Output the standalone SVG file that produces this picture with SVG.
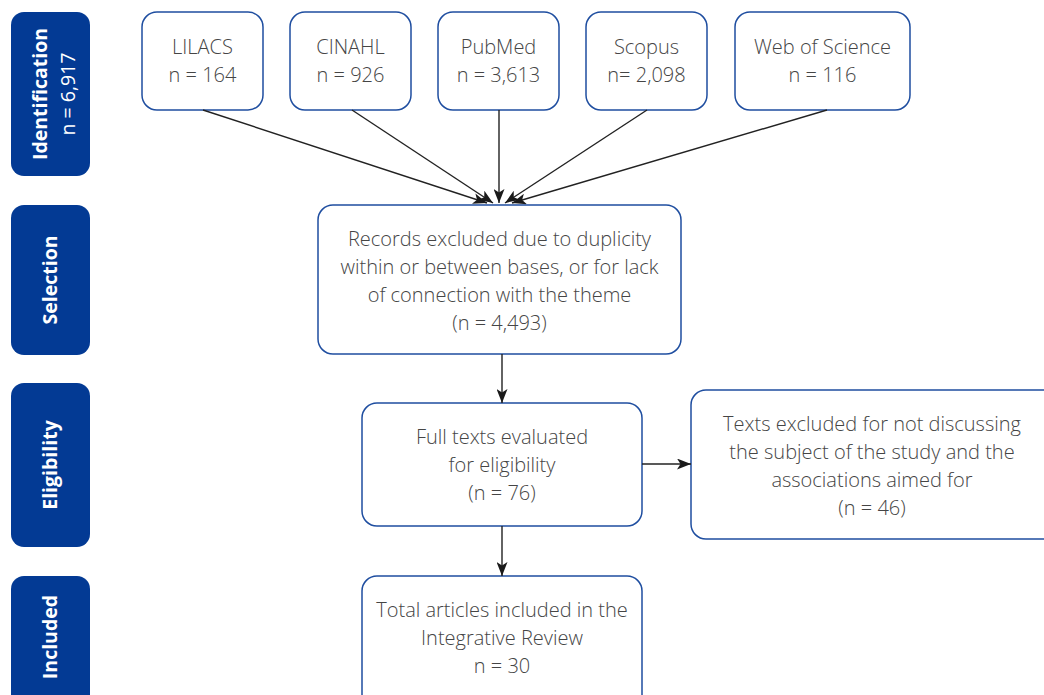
<svg xmlns="http://www.w3.org/2000/svg" width="1044" height="695" viewBox="0 0 1044 695">
<defs>
<marker id="arr" viewBox="0 0 14 11" refX="14" refY="5.5" markerWidth="14" markerHeight="11" markerUnits="userSpaceOnUse" orient="auto">
<path d="M0,0 L14,5.5 L0,11 L3.5,5.5 z" fill="#1a1a1a"/>
</marker>
<style>
.side{fill:#033a94}
.box{fill:#fff;stroke:#1f4ea0;stroke-width:1.5}
.t{font-family:"Open Sans","Liberation Sans",sans-serif;font-weight:300;font-size:20px;fill:#454545;text-anchor:middle}
.sb{font-family:"Open Sans","Liberation Sans",sans-serif;font-weight:700;font-size:19.5px;fill:#fff;text-anchor:middle}
.sr{font-family:"Open Sans","Liberation Sans",sans-serif;font-weight:400;font-size:19.5px;fill:#fff;text-anchor:middle}
.c{stroke:#222;stroke-width:1.4;fill:none}
</style>
</defs>
<g id="side-identification">
<rect class="side" x="11" y="12" width="79" height="164" rx="13"/>
<text class="sb" transform="translate(47,94) rotate(-90)">Identification</text>
<text class="sr" transform="translate(75,94) rotate(-90)">n = 6,917</text>
</g>
<g id="side-selection">
<rect class="side" x="11" y="205" width="79" height="150" rx="13"/>
<text class="sb" transform="translate(57,280) rotate(-90)">Selection</text>
</g>
<g id="side-eligibility">
<rect class="side" x="11" y="383" width="79" height="164" rx="13"/>
<text class="sb" transform="translate(57,465) rotate(-90)">Eligibility</text>
</g>
<g id="side-included">
<rect class="side" x="11" y="576" width="79" height="140" rx="13"/>
<text class="sb" transform="translate(57,637) rotate(-90)">Included</text>
</g>
<g id="lilacs">
<rect class="box" x="142" y="12" width="121" height="98" rx="15"/>
<text class="t" x="202.5" y="54">LILACS</text>
<text class="t" x="202.5" y="82">n = 164</text>
</g>
<g id="cinahl">
<rect class="box" x="290" y="12" width="121" height="98" rx="15"/>
<text class="t" x="350.5" y="54">CINAHL</text>
<text class="t" x="350.5" y="82">n = 926</text>
</g>
<g id="pubmed">
<rect class="box" x="438" y="12" width="121" height="98" rx="15"/>
<text class="t" x="498.5" y="54">PubMed</text>
<text class="t" x="498.5" y="82">n = 3,613</text>
</g>
<g id="scopus">
<rect class="box" x="586" y="12" width="121" height="98" rx="15"/>
<text class="t" x="646.5" y="54">Scopus</text>
<text class="t" x="646.5" y="82">n= 2,098</text>
</g>
<g id="wos">
<rect class="box" x="735" y="12" width="175" height="98" rx="15"/>
<text class="t" x="822.5" y="54">Web of Science</text>
<text class="t" x="822.5" y="82">n = 116</text>
</g>
<g id="selection">
<rect class="box" x="318" y="205" width="363" height="149" rx="15"/>
<text class="t" x="499.5" y="246">Records excluded due to duplicity</text>
<text class="t" x="499.5" y="274">within or between bases, or for lack</text>
<text class="t" x="499.5" y="302">of connection with the theme</text>
<text class="t" x="499.5" y="330">(n = 4,493)</text>
</g>
<g id="eligibility">
<rect class="box" x="362" y="403" width="280" height="123" rx="15"/>
<text class="t" x="502" y="444">Full texts evaluated</text>
<text class="t" x="502" y="472">for eligibility</text>
<text class="t" x="502" y="500">(n = 76)</text>
</g>
<g id="excluded">
<rect class="box" x="691" y="390" width="370" height="149" rx="15"/>
<text class="t" x="872" y="431">Texts excluded for not discussing</text>
<text class="t" x="872" y="459">the subject of the study and the</text>
<text class="t" x="872" y="487">associations aimed for</text>
<text class="t" x="872" y="515">(n = 46)</text>
</g>
<g id="included">
<rect class="box" x="362" y="576" width="280" height="140" rx="15"/>
<text class="t" x="502" y="617">Total articles included in the</text>
<text class="t" x="502" y="645">Integrative Review</text>
<text class="t" x="502" y="673">n = 30</text>
</g>
<g id="connectors">
<line class="c" x1="203" y1="110" x2="487" y2="203" marker-end="url(#arr)"/>
<line class="c" x1="352" y1="110" x2="493" y2="203" marker-end="url(#arr)"/>
<line class="c" x1="499" y1="110" x2="499" y2="203" marker-end="url(#arr)"/>
<line class="c" x1="647" y1="110" x2="505" y2="203" marker-end="url(#arr)"/>
<line class="c" x1="827" y1="110" x2="512" y2="203" marker-end="url(#arr)"/>
<line class="c" x1="502" y1="354" x2="502" y2="403" marker-end="url(#arr)"/>
<line class="c" x1="642" y1="464" x2="691" y2="464" marker-end="url(#arr)"/>
<line class="c" x1="502" y1="526" x2="502" y2="576" marker-end="url(#arr)"/>
</g>
</svg>
